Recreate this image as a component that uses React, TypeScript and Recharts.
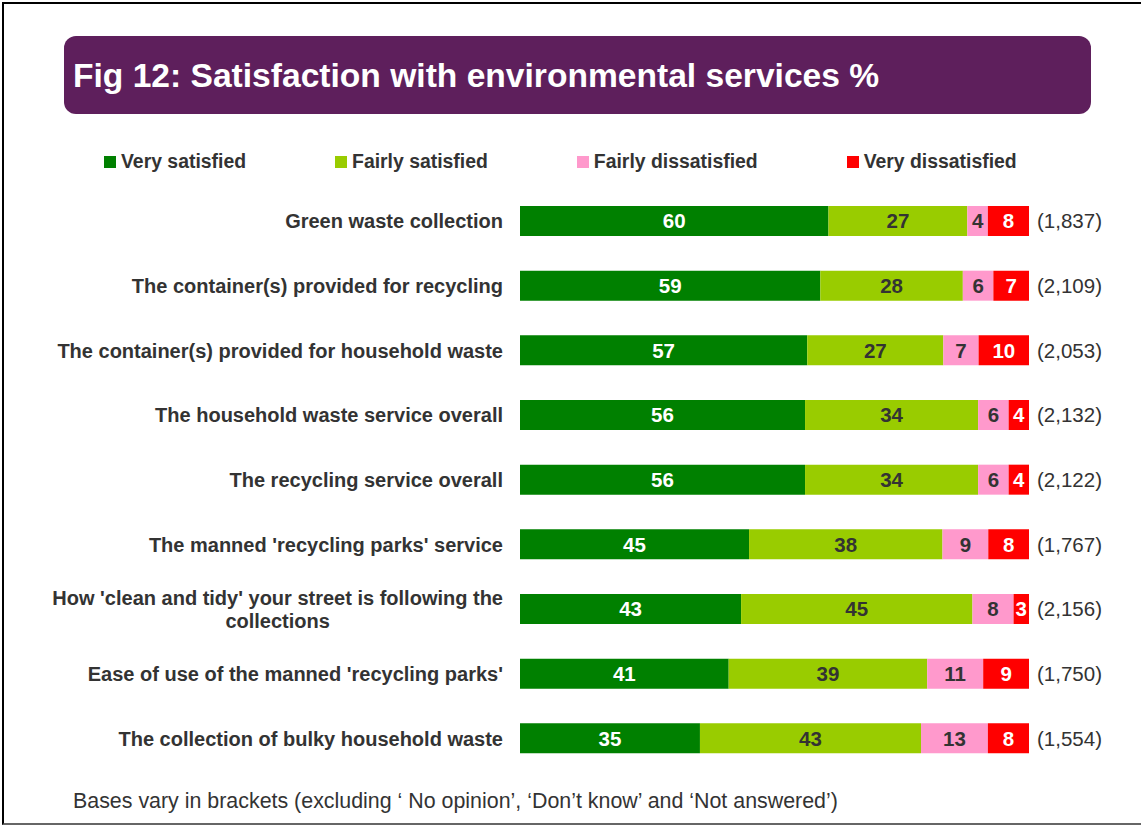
import React from "react";
import { BarChart, Bar, XAxis, YAxis, LabelList, Legend } from "recharts";

const categories = [
  "Green waste collection",
  "The container(s) provided for recycling",
  "The container(s) provided for household waste",
  "The household waste service overall",
  "The recycling service overall",
  "The manned 'recycling parks' service",
  "How 'clean and tidy' your street is following the collections",
  "Ease of use of the manned 'recycling parks'",
  "The collection of bulky household waste",
];
const verySatisfied = [60, 59, 57, 56, 56, 45, 43, 41, 35];
const fairlySatisfied = [27, 28, 27, 34, 34, 38, 45, 39, 43];
const fairlyDissatisfied = [4, 6, 7, 6, 6, 9, 8, 11, 13];
const veryDissatisfied = [8, 7, 10, 4, 4, 8, 3, 9, 8];
const bases = ["(1,837)", "(2,109)", "(2,053)", "(2,132)", "(2,122)", "(1,767)", "(2,156)", "(1,750)", "(1,554)"];

const series = [
  { key: "vs", name: "Very satisfied", color: "#008000", text: "#ffffff" },
  { key: "fs", name: "Fairly satisfied", color: "#99cc00", text: "#333333" },
  { key: "fd", name: "Fairly dissatisfied", color: "#ff99cc", text: "#333333" },
  { key: "vd", name: "Very dissatisfied", color: "#ff0000", text: "#ffffff" },
];

const data = categories.map((name, i) => ({
  name,
  vs: verySatisfied[i],
  fs: fairlySatisfied[i],
  fd: fairlyDissatisfied[i],
  vd: veryDissatisfied[i],
  base: bases[i],
}));

const FONT = "'Liberation Sans', Arial, sans-serif";
const LABEL_FONT = `bold 20px ${FONT}`;

let canvas: HTMLCanvasElement | null = null;
const measure = (s: string) => {
  if (!canvas) canvas = document.createElement("canvas");
  const ctx = canvas.getContext("2d")!;
  ctx.font = LABEL_FONT;
  return ctx.measureText(s).width;
};

// wrap long labels in two lines, second line centred under the first
const wrap = (s: string, max = 49) => {
  if (s.length <= max) return [s];
  const words = s.split(" ");
  let first = "";
  while (words.length && (first + " " + words[0]).trim().length <= max) {
    first = (first + " " + words.shift()).trim();
  }
  return [first, words.join(" ")];
};

const CategoryTick = (props: any) => {
  const { x, y, payload } = props;
  const lines = wrap(payload.value);
  const common = { fontFamily: FONT, fontSize: 20, fontWeight: "bold", fill: "#333333" } as const;
  if (lines.length === 1) {
    return (
      <text x={x} y={y} dy="0.35em" textAnchor="end" {...common}>
        {lines[0]}
      </text>
    );
  }
  const w = measure(lines[0]);
  return (
    <g>
      <text x={x} y={y - 11} dy="0.35em" textAnchor="end" {...common}>
        {lines[0]}
      </text>
      <text x={x - w / 2} y={y + 12} dy="0.35em" textAnchor="middle" {...common}>
        {lines[1]}
      </text>
    </g>
  );
};

const LegendContent = () => (
  <div style={{ display: "flex", gap: 89, alignItems: "center" }}>
    {series.map((s) => (
      <div key={s.key} style={{ display: "flex", alignItems: "center" }}>
        <span style={{ width: 12, height: 12, background: s.color, marginRight: 5, display: "inline-block" }} />
        <span style={{ fontFamily: FONT, fontWeight: "bold", fontSize: 19.4, color: "#333333" }}>{s.name}</span>
      </div>
    ))}
  </div>
);

export default function App() {
  return (
    <div style={{ position: "absolute", left: 0, top: 0, width: 1141, height: 826, background: "#fff", fontFamily: FONT }}>
      <div
        style={{
          position: "absolute",
          left: 2,
          top: 2,
          width: 1145,
          height: 819,
          borderTop: "2px solid #000",
          borderLeft: "2px solid #000",
          borderBottom: "2px solid #666",
        }}
      />
      <div
        style={{
          position: "absolute",
          left: 64,
          top: 36,
          width: 1027,
          height: 78,
          borderRadius: 12,
          background: "#5e1f5c",
          color: "#fff",
          fontWeight: "bold",
          fontSize: 33.6,
          lineHeight: "80px",
          paddingLeft: 9,
          boxSizing: "border-box",
        }}
      >
        Fig 12: Satisfaction with environmental services %
      </div>
      <BarChart
        width={1141}
        height={826}
        data={data}
        layout="vertical"
        stackOffset="expand"
        barSize={30}
        margin={{ top: 189, right: 112, bottom: 55, left: 0 }}
      >
        <XAxis type="number" hide domain={[0, 1]} />
        <YAxis
          type="category"
          dataKey="name"
          width={520}
          axisLine={false}
          tickLine={false}
          tickSize={0}
          tickMargin={17}
          interval={0}
          tick={<CategoryTick />}
        />
        <Legend
          layout="horizontal"
          verticalAlign="middle"
          align="center"
          content={<LegendContent />}
          wrapperStyle={{ top: 150, left: 104, width: 1000, height: 24 }}
        />
        {series.map((s, i) => (
          <Bar key={s.key} dataKey={s.key} name={s.name} stackId="a" fill={s.color} isAnimationActive={false}>
            <LabelList
              dataKey={s.key}
              position="center"
              fill={s.text}
              style={{ fontFamily: FONT, fontSize: 20.5, fontWeight: "bold" }}
            />
            {i === series.length - 1 && (
              <LabelList
                dataKey="base"
                position="right"
                offset={8}
                fill="#333333"
                style={{ fontFamily: FONT, fontSize: 20.5 }}
              />
            )}
          </Bar>
        ))}
      </BarChart>
      <div style={{ position: "absolute", left: 73, top: 789, fontSize: 21.4, color: "#333333" }}>
        Bases vary in brackets (excluding ‘ No opinion’, ‘Don’t know’ and ‘Not answered’)
      </div>
    </div>
  );
}
